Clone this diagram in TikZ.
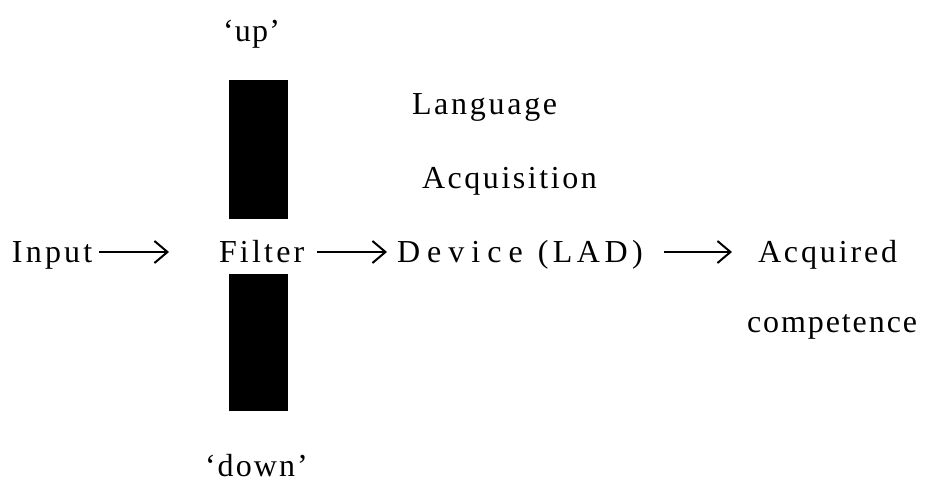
\documentclass[tikz,border=0pt]{standalone}
\usepackage{fontspec}
\setmainfont{Liberation Serif}
\usetikzlibrary{arrows.meta}
\begin{document}
\begin{tikzpicture}[x=1pt,y=-1pt,
  lbl/.style={anchor=base west,inner sep=0pt,outer sep=0pt,text depth=0pt,font=\fontsize{32}{38}\selectfont\addfontfeatures{LetterSpace=#1}},
  bar/.style={fill=black,draw=none,inner sep=0pt,minimum width=59pt},
  arr/.style={line width=2pt,-{Straight Barb[length=13pt,width=22pt,line width=2pt]}}]
\useasboundingbox (0,0) rectangle (931,484);
% bars
\node[bar,minimum height=139pt] (barup) at (258.5,149.5) {};
\node[bar,minimum height=137pt] (bardown) at (258.5,342.5) {};
% labels
\node[lbl=4] (up) at (223,42) {‘up’};
\node[lbl=6.5] (down) at (205,476) {‘down’};
\node[lbl=8.5] (lang) at (412,114) {Language};
\node[lbl=8] (acq) at (422,188) {Acquisition};
\node[lbl=10] (input) at (12,262) {Input};
\node[lbl=10] (filter) at (219,262) {Filter};
\node[lbl=0] (device) at (397,262) {{\addfontfeatures{LetterSpace=22}Device}\kern15pt{\addfontfeatures{LetterSpace=14}(LAD)}};
\node[lbl=9] (acquired) at (758,262) {Acquired};
\node[lbl=6] (comp) at (747,332) {competence};
% arrows
\draw[arr] ([shift={(7,-10)}]input.base east) -- ([shift={(-50,-10)}]filter.base west);
\draw[arr] ([shift={(13,-10)}]filter.base east) -- ([shift={(-10,-10)}]device.base west);
\draw[arr] ([shift={(21,-10)}]device.base east) -- ([shift={(-26,-10)}]acquired.base west);
\end{tikzpicture}
\end{document}
